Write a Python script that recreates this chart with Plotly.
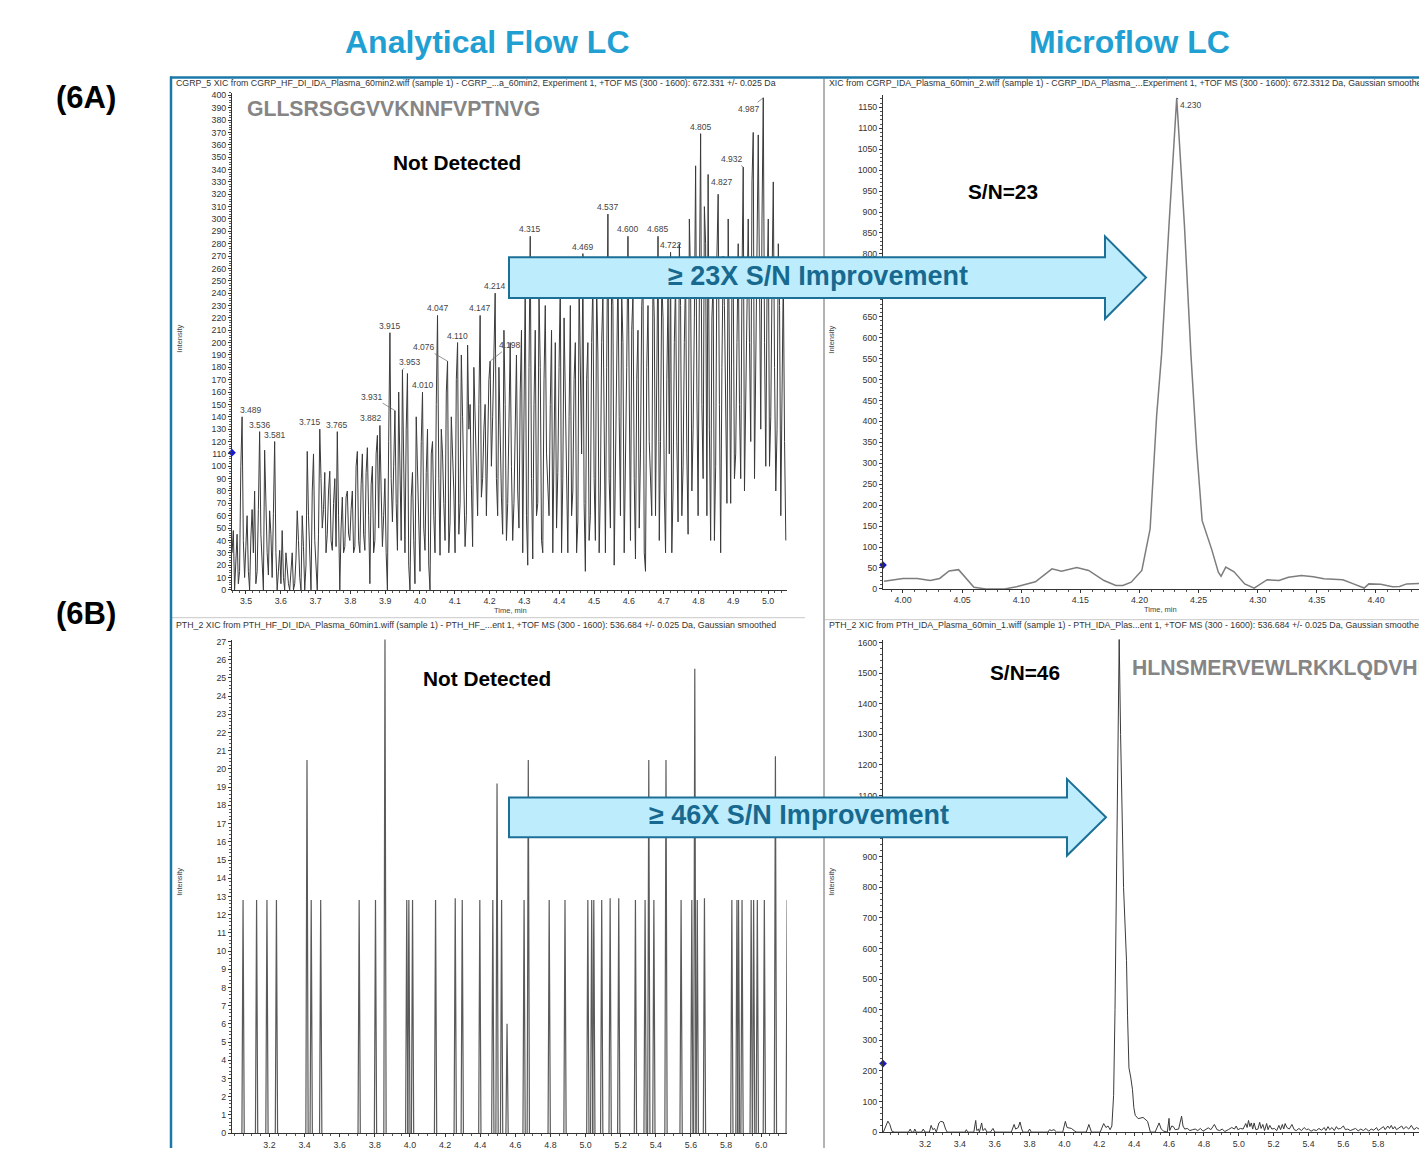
import plotly.graph_objects as go

W, H = 1419, 1153
def px(x): return x / W
def py(y): return 1 - y / H

FONT = "Liberation Sans, Arial, sans-serif"

# ---------------- DATA ----------------
# (6A) Analytical flow, CGRP XIC: scan intensities on a uniform grid
# (even scans and odd scans listed separately; they alternate in time)
cgrp_af_start = 3.460
cgrp_af_step = 0.0036
cgrp_af_scan_even = [
    30, 0, 45, 15, 140, 10, 60, 0, 65, 80, 15, 128, 20, 113, 30, 64, 10, 120, 0, 32,
    48, 0, 15, 0, 30, 5, 64, 10, 60, 0, 112, 20, 80, 40, 0, 130, 50, 95, 45, 96,
    32, 90, 128, 0, 75, 35, 80, 40, 80, 35, 112, 30, 110, 32, 115, 5, 100, 40, 125, 133,
    35, 90, 0, 208, 55, 145, 32, 110, 178, 30, 175, 0, 95, 5, 105, 15, 160, 32, 130, 0,
    120, 30, 222, 28, 110, 40, 185, 55, 110, 30, 200, 70, 140, 35, 198, 150, 35, 140, 60, 222,
    90, 150, 120, 185, 140, 240, 60, 120, 45, 150, 70, 200, 40, 130, 80, 160, 30, 250, 20, 286,
    25, 210, 70, 180, 30, 230, 75, 150, 30, 200, 95, 250, 90, 160, 30, 230, 80, 200, 55, 180,
    272, 15, 200, 60, 250, 40, 190, 80, 240, 30, 304, 50, 230, 100, 260, 60, 200, 90, 286, 40,
    240, 25, 210, 110, 250, 15, 230, 90, 260, 60, 286, 120, 220, 30, 240, 273, 80, 250, 55, 230,
    100, 260, 45, 250, 130, 343, 60, 369, 90, 280, 336, 40, 250, 100, 320, 30, 270, 120, 300, 70,
    260, 110, 280, 90, 342, 150, 300, 120, 370, 180, 368, 130, 398, 100, 300, 140, 330, 80, 280, 60,
    255, 40,
]
cgrp_af_scan_odd = [
    48, 25, 5, 100, 40, 35, 15, 42, 30, 5, 65, 45, 0, 60, 12, 45, 62, 30, 15, 5,
    10, 30, 5, 20, 0, 25, 40, 0, 35, 20, 60, 0, 110, 15, 45, 90, 65, 30, 80, 40,
    70, 35, 60, 50, 30, 75, 45, 65, 30, 100, 40, 85, 45, 95, 60, 85, 30, 110, 50, 80,
    60, 30, 120, 90, 100, 70, 160, 40, 95, 130, 20, 75, 40, 140, 60, 120, 50, 95, 20, 110,
    60, 150, 90, 130, 70, 160, 30, 140, 80, 170, 45, 190, 95, 60, 130, 85, 180, 100, 150, 75,
    130, 60, 170, 100, 200, 90, 180, 75, 210, 40, 150, 100, 70, 190, 50, 210, 120, 60, 180, 90,
    150, 60, 240, 40, 170, 110, 60, 210, 130, 50, 180, 30, 220, 90, 140, 60, 170, 30, 250, 110,
    70, 170, 40, 200, 90, 250, 30, 200, 110, 180, 90, 260, 20, 190, 140, 240, 30, 180, 130, 210,
    90, 170, 50, 230, 30, 180, 120, 60, 220, 170, 40, 250, 80, 170, 110, 30, 200, 120, 280, 60,
    200, 110, 300, 80, 220, 160, 240, 150, 310, 60, 130, 220, 40, 270, 150, 180, 230, 70, 160, 250,
    90, 200, 150, 250, 80, 260, 200, 330, 90, 230, 250, 300, 200, 240, 100, 250, 180, 130, 230, 160,
    120,
]
cgrp_af_peak_labels = ["3.489", "3.536", "3.581", "3.715", "3.765", "3.882", "3.915", "3.931",
                       "3.953", "4.010", "4.047", "4.076", "4.110", "4.147", "4.198", "4.214",
                       "4.315", "4.469", "4.537", "4.600", "4.685", "4.722", "4.805", "4.827",
                       "4.932", "4.987"]
cgrp_af_peak_times = [3.489, 3.539, 3.582, 3.712, 3.762, 3.885, 3.914, 3.928,
                      3.950, 4.007, 4.050, 4.079, 4.108, 4.173, 4.202, 4.216,
                      4.317, 4.468, 4.540, 4.598, 4.684, 4.720, 4.806, 4.828,
                      4.929, 4.986]

# (6A) Microflow, CGRP XIC
cgrp_mf_time = [3.984, 4.000, 4.012, 4.023, 4.031, 4.039, 4.047, 4.060, 4.070, 4.086,
                4.096, 4.112, 4.126, 4.134, 4.147, 4.157, 4.170, 4.180, 4.186, 4.193,
                4.202, 4.209, 4.2145, 4.2187, 4.225, 4.2315, 4.238, 4.2435, 4.2484, 4.253,
                4.261, 4.2667, 4.269, 4.273, 4.280, 4.289, 4.297, 4.302, 4.308, 4.318,
                4.326, 4.337, 4.347, 4.356, 4.372, 4.381, 4.390, 4.394, 4.404, 4.414,
                4.420, 4.426, 4.437]
cgrp_mf_intensity = [18, 25, 25, 20, 25, 43, 46, 4, 0, 0,
                     5, 17, 48, 42, 51, 44, 20, 8, 8, 16,
                     44, 143, 413, 560, 870, 1172, 870, 560, 333, 163,
                     95, 40, 30, 52, 41, 12, 2, 12, 22, 20,
                     28, 32, 29, 24, 22, 12, 2, 12, 11, 5,
                     6, 12, 13]
cgrp_mf_peak = (4.2315, 1172, "4.230")

# (6B) Analytical flow, PTH XIC: isolated noise spikes (apex time, apex intensity)
pth_af_spike_time = [3.050, 3.127, 3.186, 3.240, 3.414, 3.438, 3.492, 3.711, 3.804, 3.858,
                     3.982, 3.994, 4.015, 4.146, 4.258, 4.298, 4.398, 4.472, 4.496, 4.522,
                     4.553, 4.650, 4.674, 4.793, 4.883, 5.013, 5.035, 5.047, 5.092, 5.140,
                     5.189, 5.284, 5.339, 5.360, 5.389, 5.458, 5.544, 5.605, 5.622, 5.636,
                     5.677, 5.833, 5.862, 5.871, 5.891, 5.943, 5.957, 5.978, 6.018, 6.081,
                     6.148]
pth_af_spike_height = [12.8, 12.8, 12.8, 12.8, 20.5, 12.8, 12.8, 12.8, 12.8, 27.2,
                       12.8, 12.8, 12.8, 12.8, 12.9, 12.8, 12.8, 12.8, 19.2, 12.8,
                       6.0, 12.8, 20.5, 12.8, 12.8, 12.8, 12.8, 12.8, 12.8, 12.9,
                       12.9, 12.8, 12.8, 20.5, 12.8, 20.5, 12.8, 12.8, 25.5, 12.8,
                       12.9, 12.8, 12.8, 12.8, 12.8, 12.8, 12.8, 12.8, 12.8, 20.7,
                       12.8]
pth_af_spike_halfwidth = 0.0065

# (6B) Microflow, PTH XIC
pth_mf_time = [2.961, 2.975, 2.987, 2.998, 3.010, 3.025, 3.105, 3.115, 3.123, 3.135,
               3.141, 3.150, 3.180, 3.190, 3.200, 3.225, 3.235, 3.245, 3.255, 3.265,
               3.280, 3.290, 3.305, 3.318, 3.327, 3.430, 3.437, 3.445, 3.480, 3.491,
               3.497, 3.507, 3.512, 3.525, 3.532, 3.545, 3.555, 3.575, 3.590, 3.600,
               3.695, 3.711, 3.720, 3.735, 3.745, 3.755, 3.762, 3.790, 3.800, 3.810,
               3.905, 3.915, 3.925, 3.940, 3.955, 3.990, 4.005, 4.015, 4.030, 4.040,
               4.055, 4.070, 4.125, 4.140, 4.155, 4.205, 4.225, 4.238, 4.250, 4.262,
               4.272, 4.282, 4.290, 4.298, 4.306, 4.314, 4.322, 4.330, 4.339, 4.346,
               4.356, 4.362, 4.370, 4.380, 4.390, 4.398, 4.406, 4.423, 4.451, 4.477,
               4.493, 4.520, 4.543, 4.555, 4.570, 4.590, 4.600, 4.604, 4.615, 4.625,
               4.635, 4.655, 4.672, 4.680, 4.690, 4.705, 4.720, 4.735, 4.750, 4.765,
               4.780, 4.795, 4.810, 4.825, 4.840, 4.860, 4.875, 4.890, 4.905, 4.920,
               4.940, 4.960, 4.975, 4.985, 4.995, 5.010, 5.025, 5.040, 5.048, 5.056,
               5.064, 5.072, 5.080, 5.088, 5.098, 5.110, 5.120, 5.128, 5.138, 5.148,
               5.160, 5.168, 5.178, 5.190, 5.205, 5.218, 5.230, 5.240, 5.250, 5.258,
               5.266, 5.276, 5.290, 5.305, 5.318, 5.330, 5.345, 5.360, 5.375, 5.388,
               5.400, 5.415, 5.430, 5.445, 5.460, 5.475, 5.490, 5.500, 5.512, 5.522,
               5.535, 5.548, 5.560, 5.570, 5.585, 5.600, 5.612, 5.625, 5.640, 5.655,
               5.670, 5.685, 5.700, 5.715, 5.730, 5.745, 5.760, 5.775, 5.790, 5.800,
               5.815, 5.830, 5.840, 5.855, 5.865, 5.875, 5.885, 5.895, 5.905, 5.920,
               5.935, 5.945, 5.960, 5.975, 5.990, 6.005, 6.020, 6.034]
pth_mf_intensity = [0, 20, 36, 25, 3, 0, 0, 10, 0, 0,
                    10, 0, 0, 10, 0, 0, 22, 8, 12, 0,
                    30, 35, 33, 10, 0, 0, 8, 0, 0, 38,
                    5, 10, 0, 30, 5, 12, 0, 0, 12, 0,
                    0, 25, 10, 15, 33, 10, 0, 0, 10, 0,
                    0, 8, 5, 8, 0, 0, 35, 15, 12, 12,
                    5, 0, 0, 25, 0, 0, 28, 15, 20, 8,
                    20, 120, 400, 800, 1200, 1612, 1300, 1050, 800, 700,
                    560, 380, 210, 180, 140, 80, 55, 44, 48, 35,
                    0, 0, 30, 10, 3, 0, 45, 5, 20, 18,
                    8, 10, 52, 20, 10, 12, 5, 8, 10, 5,
                    12, 3, 10, 14, 8, 25, 8, 5, 10, 2,
                    8, 15, 10, 20, 8, 12, 10, 28, 15, 38,
                    18, 30, 10, 30, 8, 10, 32, 12, 25, 5,
                    28, 8, 22, 10, 12, 5, 22, 8, 25, 10,
                    28, 15, 10, 25, 8, 5, 12, 5, 15, 8,
                    10, 3, 8, 5, 12, 6, 15, 5, 18, 8,
                    15, 5, 18, 10, 12, 20, 8, 10, 5, 8,
                    12, 4, 10, 5, 12, 3, 10, 6, 15, 5,
                    12, 18, 8, 20, 12, 22, 10, 18, 8, 15,
                    20, 10, 18, 10, 22, 8, 15, 10]
pth_mf_peak = (4.314, 1612, "4.314")

# time-axis tick labels of the (6B) panels
pth_time_ticks = [3.2, 3.4, 3.6, 3.8, 4.0, 4.2, 4.4, 4.6, 4.8, 5.0, 5.2, 5.4, 5.6, 5.8, 6.0]

# threshold markers on the y axes (intensity)
threshold_levels = {"A_left": 111, "A_right": 57, "B_right": 224}

# ---------------- FIGURE ----------------
fig = go.Figure()

cgrp_af_intensity = []
for a, b in zip(cgrp_af_scan_even, cgrp_af_scan_odd):
    cgrp_af_intensity += [a, b]
cgrp_af_intensity += cgrp_af_scan_even[len(cgrp_af_scan_odd):]
cgrp_af_time = [round(cgrp_af_start + cgrp_af_step * i, 4) for i in range(len(cgrp_af_intensity))]

fig.add_trace(go.Scatter(x=cgrp_af_time, y=cgrp_af_intensity, mode="lines",
                         line=dict(color="#3a3a3a", width=1), xaxis="x", yaxis="y"))
fig.add_trace(go.Scatter(x=cgrp_mf_time, y=cgrp_mf_intensity, mode="lines",
                         line=dict(color="#7d7d7d", width=1.5), xaxis="x2", yaxis="y2"))
x3, y3 = [], []
for t, h in zip(pth_af_spike_time, pth_af_spike_height):
    x3 += [t - pth_af_spike_halfwidth, t, t + pth_af_spike_halfwidth, None]
    y3 += [0, h, 0, None]
fig.add_trace(go.Scatter(x=x3, y=y3, mode="lines", connectgaps=False,
                         line=dict(color="#5a5a5a", width=1.2), xaxis="x3", yaxis="y3"))
fig.add_trace(go.Scatter(x=pth_mf_time, y=pth_mf_intensity, mode="lines",
                         line=dict(color="#3a3a3a", width=1), xaxis="x4", yaxis="y4"))

# threshold markers
for key, ax_x, ax_y, xv in [("A_left", "x", "y", 3.4598), ("A_right", "x2", "y2", 3.9831),
                            ("B_right", "x4", "y4", 2.959)]:
    fig.add_trace(go.Scatter(x=[xv], y=[threshold_levels[key]], mode="markers", cliponaxis=False,
                             marker=dict(symbol="diamond", size=6, color="#1a1acc"),
                             xaxis=ax_x, yaxis=ax_y))

tickfont = dict(family=FONT, size=8.8, color="#333")
def xax(dom, rng, dtick, minor, fmt, tickvals=None):
    d = dict(domain=[px(dom[0]), px(dom[1])], range=rng, dtick=dtick, tick0=0,
             showline=True, linecolor="#333", linewidth=1, ticks="outside", ticklen=3,
             tickcolor="#333", tickfont=tickfont, tickformat=fmt, showgrid=False,
             zeroline=False, minor=dict(ticks="outside", ticklen=2, dtick=minor, tick0=0, tickcolor="#555"),
             fixedrange=True)
    if tickvals is not None:
        d["tickmode"] = "array"
        d["tickvals"] = tickvals
    return d
def yax(dom, rng, dtick, minor, anchor):
    return dict(domain=[py(dom[0]), py(dom[1])], range=rng, dtick=dtick, tick0=0,
                showline=True, linecolor="#333", linewidth=1, ticks="outside", ticklen=3,
                tickcolor="#333", tickfont=tickfont, showgrid=False, zeroline=False,
                minor=dict(ticks="outside", ticklen=2, dtick=minor, tickcolor="#555"),
                anchor=anchor, fixedrange=True)

fig.update_layout(
    width=W, height=H, margin=dict(l=0, r=0, t=0, b=0),
    paper_bgcolor="white", plot_bgcolor="white", showlegend=False,
    xaxis=dict(**xax((232, 787), [3.4598, 5.0546], 0.1, 0.02, ".1f"), anchor="y"),
    yaxis=yax((591, 90.5), [0, 402], 10, 2, "x"),
    xaxis2=dict(**xax((883, 1419), [3.9831, 4.4364], 0.05, 0.01, ".2f"), anchor="y2"),
    yaxis2=yax((590, 93), [0, 1178.6], 50, 10, "x2"),
    xaxis3=dict(**xax((232, 787), [2.987, 6.147], 0.2, 0.05, ".1f", pth_time_ticks), anchor="y3"),
    yaxis3=yax((1138, 641), [0, 27.11], 1, 0.2, "x3"),
    xaxis4=dict(**xax((883, 1419), [2.959, 6.034], 0.2, 0.05, ".1f", pth_time_ticks), anchor="y4"),
    yaxis4=yax((1137, 641), [0, 1610], 100, 20, "x4"),
)

ann = []
def ptext(x, y, text, size, color="#000", bold=False, xanchor="center", yanchor="middle",
          angle=0, family=FONT):
    t = f"<b>{text}</b>" if bold else text
    ann.append(dict(x=px(x), y=py(y - 2), xref="paper", yref="paper", text=t, showarrow=False,
                    xanchor=xanchor, yanchor=yanchor, textangle=angle,
                    font=dict(family=family, size=size, color=color)))

# titles
ptext(487, 41, "Analytical Flow LC", 32, "#1f9fd2", True)
ptext(1129, 41, "Microflow LC", 32, "#1f9fd2", True)
ptext(86, 97, "(6A)", 31, "#000", True)
ptext(86, 617, "(6B)", 31, "#000", True)

# headers
hdr_col = "#333"
ptext(174, 83, "CGRP_5 XIC from CGRP_HF_DI_IDA_Plasma_60min2.wiff (sample 1) - CGRP_...a_60min2, Experiment 1, +TOF MS (300 - 1600): 672.331 +/- 0.025 Da",
      8.8, hdr_col, xanchor="left")
ptext(827, 83, "XIC from CGRP_IDA_Plasma_60min_2.wiff (sample 1) - CGRP_IDA_Plasma_...Experiment 1, +TOF MS (300 - 1600): 672.3312 Da, Gaussian smoothed",
      8.8, hdr_col, xanchor="left")
ptext(174, 628, "PTH_2 XIC from PTH_HF_DI_IDA_Plasma_60min1.wiff (sample 1) - PTH_HF_...ent 1, +TOF MS (300 - 1600): 536.684 +/- 0.025 Da, Gaussian smoothed",
      8.8, hdr_col, xanchor="left")
ptext(827, 628, "PTH_2 XIC from PTH_IDA_Plasma_60min_1.wiff (sample 1) - PTH_IDA_Plas...ent 1, +TOF MS (300 - 1600): 536.684 +/- 0.025 Da, Gaussian smoothed",
      8.8, hdr_col, xanchor="left")

# axis titles
for x, y in [(180, 340), (832, 341), (180, 887), (832, 887)]:
    ptext(x, y, "Intensity", 7.5, "#444", angle=-90)
ptext(510, 614, "Time, min", 7.5, "#444")
ptext(1160, 613, "Time, min", 7.5, "#444")

# in-plot texts
ptext(245, 108, "GLLSRSGGVVKNNFVPTNVG", 21.2, "#858585", True, xanchor="left")
ptext(457, 163, "Not Detected", 20.8, "#000", True)
ptext(1003, 192, "S/N=23", 20.8, "#000", True)
ptext(487, 682, "Not Detected", 20.8, "#000", True)
ptext(1025, 676, "S/N=46", 20.8, "#000", True)
ptext(1130, 672, "HLNSMERVEWLRKKLQDVHNF", 21.2, "#858585", True, xanchor="left")

# peak labels A-left
leader_offsets = {"3.931": (-23, -14), "4.076": (-24, -14), "4.198": (20, -16), "4.827": (14, 8),
                  "4.987": (-14, 11), "4.932": (-11, -8), "3.953": (8, -8)}
side_shift = {"3.489": 9, "3.715": -10, "3.882": -9}
for lab, t in zip(cgrp_af_peak_labels, cgrp_af_peak_times):
    idx = min(range(len(cgrp_af_time)), key=lambda i: abs(cgrp_af_time[i] - t))
    v = cgrp_af_intensity[idx]
    f = dict(family=FONT, size=8.5, color="#444")
    if lab in leader_offsets:
        ax_, ay_ = leader_offsets[lab]
        ann.append(dict(x=cgrp_af_time[idx], y=v, xref="x", yref="y", text=lab, showarrow=True,
                        arrowhead=0, arrowwidth=0.7, arrowcolor="#666", ax=ax_, ay=ay_,
                        standoff=0, font=f))
    else:
        ann.append(dict(x=cgrp_af_time[idx], y=v, xref="x", yref="y", text=lab, showarrow=False,
                        yanchor="bottom", yshift=0, xshift=side_shift.get(lab, 0), font=f))

for (t, v, lab), xr, yr, o in [(cgrp_mf_peak, "x2", "y2", (14, 7)), (pth_mf_peak, "x4", "y4", (15, 5))]:
    ann.append(dict(x=t, y=v, xref=xr, yref=yr, text=lab, showarrow=True, arrowhead=0,
                    arrowwidth=0.7, arrowcolor="#333", ax=o[0], ay=o[1], standoff=0,
                    font=dict(family=FONT, size=8.5, color="#444")))

# arrow texts
ptext(818, 277, "≥ 23X S/N Improvement", 27, "#17698f", True)
ptext(799, 820, "≥ 46X S/N Improvement", 27, "#17698f", True)

fig.update_layout(annotations=ann)

# frames / separators
shapes = []
def pline(x0, y0, x1, y1, color, width):
    shapes.append(dict(type="line", xref="paper", yref="paper", x0=px(x0), y0=py(y0),
                       x1=px(x1), y1=py(y1), line=dict(color=color, width=width), layer="above"))
pline(824, 76, 824, 1153, "#666", 1)
pline(172, 619, 805, 619, "#c8c8c8", 1)
pline(825, 621, 1419, 621, "#c8c8c8", 1)
pline(170, 75, 1419, 75, "#1b79a8", 2.5)
pline(171, 74, 171, 1153, "#1b79a8", 2.5)

def arrow_path(x0, x1, xt, yc, half_body, half_head):
    pts = [(x0, yc - half_body), (x1, yc - half_body), (x1, yc - half_head), (xt, yc),
           (x1, yc + half_head), (x1, yc + half_body), (x0, yc + half_body)]
    return "M " + " L ".join(f"{px(a):.5f},{py(b):.5f}" for a, b in pts) + " Z"
for x0, x1, xt, yc, hb, hh in [(509, 1105, 1146, 276.5, 20.5, 41.5), (509, 1067, 1106, 820, 20, 38.5)]:
    shapes.append(dict(type="path", xref="paper", yref="paper", path=arrow_path(x0, x1, xt, yc, hb, hh),
                       fillcolor="#bdedfc", line=dict(color="#1c6f96", width=2), layer="above"))
fig.update_layout(shapes=shapes)

fig.write_html("out.html", config={"displayModeBar": False},
               post_script="document.body.style.margin='0px';document.body.style.padding='0px';document.body.style.overflow='hidden';")
